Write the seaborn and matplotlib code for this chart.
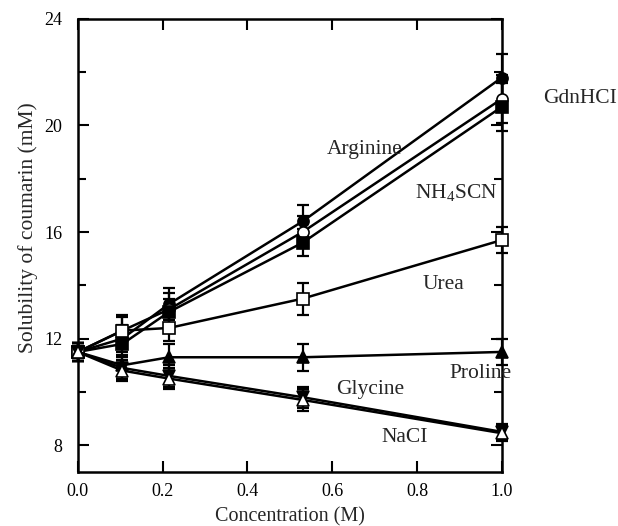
import numpy as np
import pandas as pd
import matplotlib
matplotlib.use("Agg")
import matplotlib.pyplot as plt
import seaborn as sns

# concentrations (M)
conc = [0.0, 0.105, 0.215, 0.53, 1.0]

arginine = [11.5, 12.0, 13.3, 16.4, 21.8]
gdnhcl = [11.5, 12.3, 13.1, 16.0, 21.0]
nh4scn = [11.5, 11.8, 13.0, 15.6, 20.7]
urea = [11.5, 12.3, 12.4, 13.5, 15.7]
proline = [11.5, 11.0, 11.3, 11.3, 11.5]
glycine = [11.5, 10.9, 10.6, 9.8, 8.5]
nacl = [11.5, 10.8, 10.5, 9.7, 8.45]

err_arginine = [0.35, 0.5, 0.6, 0.6, 0.9]
err_gdnhcl = [0.35, 0.6, 0.6, 0.6, 0.9]
err_nh4scn = [0.35, 0.5, 0.5, 0.5, 0.9]
err_urea = [0.35, 0.5, 0.5, 0.6, 0.5]
err_proline = [0.35, 0.4, 0.5, 0.5, 0.5]
err_glycine = [0.35, 0.4, 0.4, 0.4, 0.3]
err_nacl = [0.35, 0.4, 0.4, 0.4, 0.3]

series = [
    ('Arginine', arginine, err_arginine, 'o', 'black'),
    ('GdnHCI', gdnhcl, err_gdnhcl, 'o', 'white'),
    ('NH4SCN', nh4scn, err_nh4scn, 's', 'black'),
    ('Urea', urea, err_urea, 's', 'white'),
    ('Proline', proline, err_proline, '^', 'black'),
    ('Glycine', glycine, err_glycine, 'v', 'black'),
    ('NaCI', nacl, err_nacl, '^', 'white'),
]

sns.set_theme(style='ticks')
plt.rcParams['font.family'] = ['Liberation Serif', 'DejaVu Serif']
plt.rcParams['mathtext.default'] = 'regular'

fig = plt.figure(figsize=(6.18, 5.26), dpi=100)
ax = fig.add_axes([0.126, 0.103, 0.686, 0.861])

for name, vals, errs, mk, face in series:
    eb = ax.errorbar(conc, vals, yerr=errs, fmt='none', ecolor='black',
                     elinewidth=1.6, capsize=4, capthick=1.6, zorder=2)
    for art in eb.lines[1] + eb.lines[2]:
        art.set_clip_on(False)
    sns.lineplot(x=conc, y=vals, ax=ax, color='black', linewidth=1.8,
                 marker=mk, markersize=8, markerfacecolor=face,
                 markeredgecolor='black', markeredgewidth=1.2, zorder=3,
                 clip_on=False)

ax.set_xlim(0, 1.0)
ax.set_ylim(7, 24)
ax.set_xticks(np.arange(0, 1.01, 0.2))
ax.set_xticklabels(['0.0', '0.2', '0.4', '0.6', '0.8', '1.0'])
ax.set_yticks([8, 12, 16, 20, 24])
ax.set_yticks([10, 14, 18, 22], minor=True)
ax.tick_params(which='both', direction='in', top=True, right=True,
               labelsize=13, width=1.5, colors='black', pad=8)
ax.tick_params(axis='y', pad=11)
ax.tick_params(which='major', length=8)
ax.tick_params(which='minor', length=6)
for sp in ax.spines.values():
    sp.set_linewidth(1.8)
    sp.set_color('black')

ax.set_xlabel('Concentration (M)', fontsize=14.5, labelpad=5)
ax.set_ylabel('Solubility of coumarin (mM)', fontsize=15.5)
ax.yaxis.set_label_coords(-0.095, 0.54)

fs = 15.5
ax.text(0.677, 19.1, 'Arginine', fontsize=fs, ha='center', va='center')
ax.text(0.892, 17.5, 'NH$_4$SCN', fontsize=fs, ha='center', va='center')
ax.text(1.097, 21.0, 'GdnHCI', fontsize=fs, ha='left', va='center', clip_on=False)
ax.text(0.814, 14.05, 'Urea', fontsize=fs, ha='left', va='center')
ax.text(0.877, 10.7, 'Proline', fontsize=fs, ha='left', va='center')
ax.text(0.61, 10.1, 'Glycine', fontsize=fs, ha='left', va='center')
ax.text(0.715, 8.3, 'NaCI', fontsize=fs, ha='left', va='center')

fig.savefig('out.png', dpi=100)
